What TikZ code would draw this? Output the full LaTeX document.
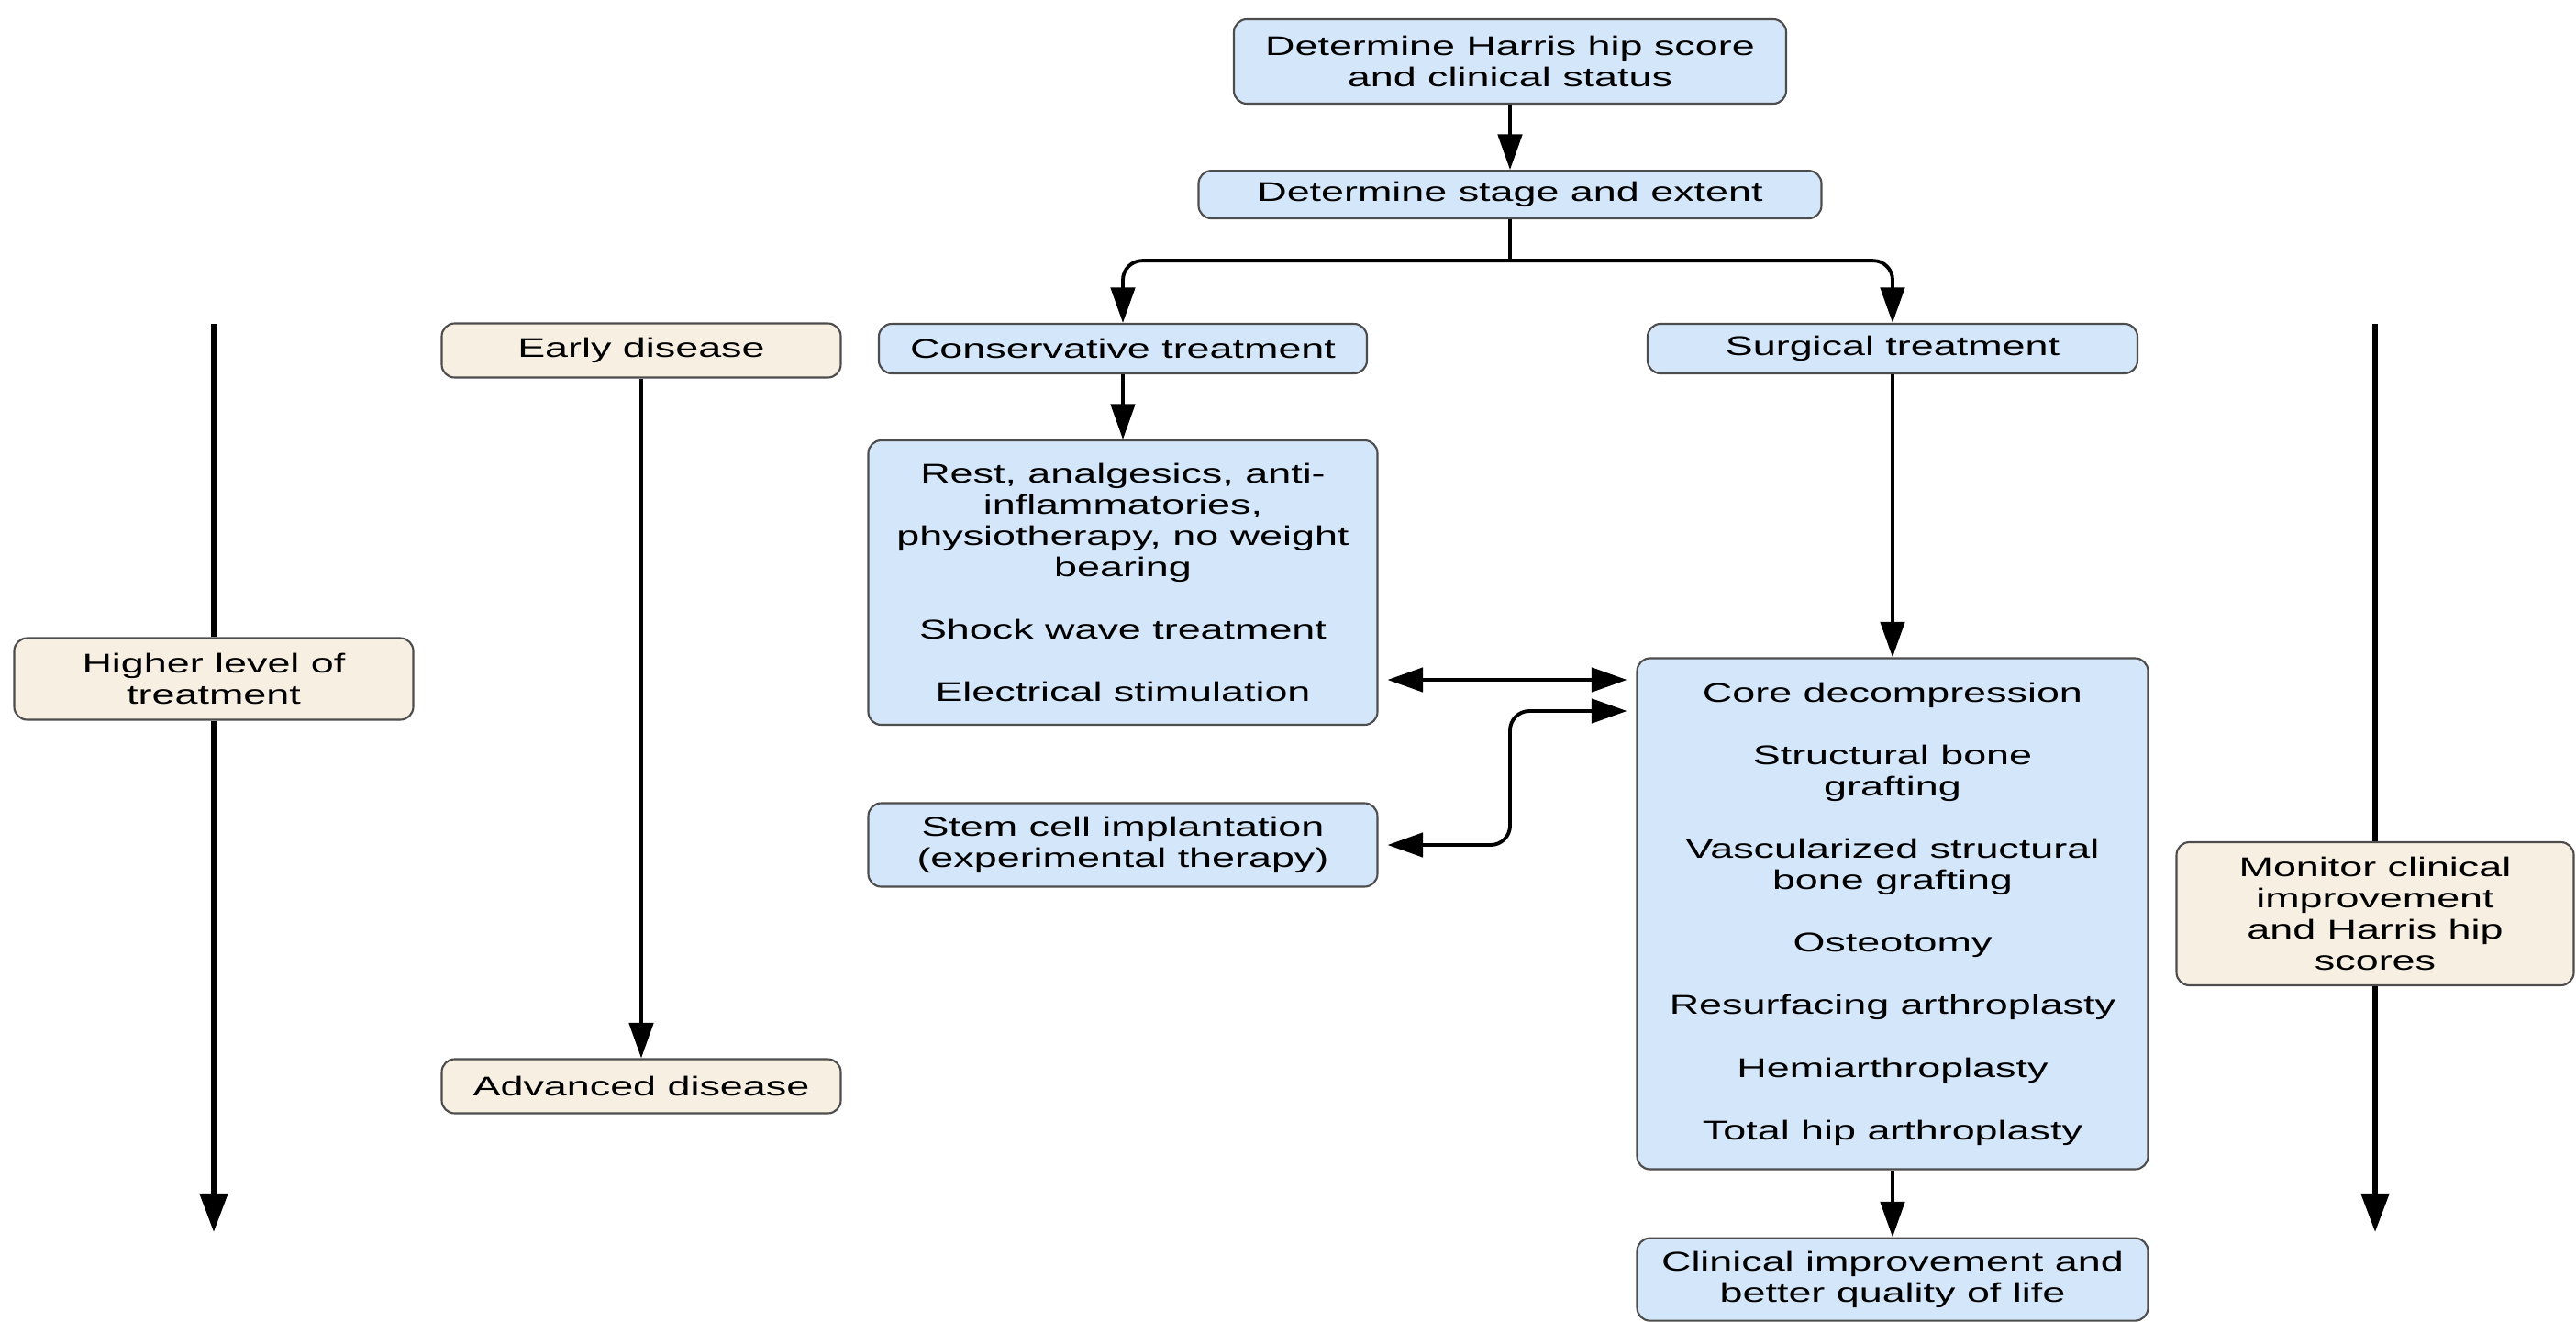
\documentclass[tikz,border=0pt]{standalone}
\usepackage{fontspec}
\setmainfont{Liberation Sans}[FakeStretch=1.52]
\usepackage{tikz}
\usetikzlibrary{arrows.meta, positioning}
\definecolor{stepBlue}{HTML}{D4E6F9}
\definecolor{stageBeige}{HTML}{F7EFE2}
\definecolor{boxEdge}{HTML}{4D4D4D}

\begin{document}
\begin{tikzpicture}[
    every node/.style={font=\fontsize{8.4pt}{9.7pt}\selectfont, align=center},
    flowbox/.style={
        draw=boxEdge, line width=0.6pt, rounded corners=4pt,
        fill=stepBlue, inner sep=2pt
    },
    sidebox/.style={flowbox, fill=stageBeige},
    conn/.style={draw, line width=1.1pt, -{Triangle[length=11pt, width=7.5pt]}},
    both/.style={conn, {Triangle[length=11pt, width=7.5pt]}-{Triangle[length=11pt, width=7.5pt]},
        shorten <=0.1cm, shorten >=0.1cm},
    axis/.style={draw, line width=1.6pt},
]
    \useasboundingbox (0,0) rectangle (28.08,-14.40);

    % main column
    \node[flowbox, minimum width=6.02cm, minimum height=0.92cm] (harris) at (16.46,-0.67)
        {Determine Harris hip score\\and clinical status};
    \node[flowbox, minimum width=6.79cm, minimum height=0.52cm, below=0.71cm of harris] (stage)
        {Determine stage and extent};
    \node[flowbox, minimum width=5.32cm, minimum height=0.54cm] (cons) at (12.24,-3.80)
        {Conservative treatment};
    \node[flowbox, minimum width=5.34cm, minimum height=0.54cm] (surg) at (20.63,-3.80)
        {Surgical treatment};
    \node[flowbox, minimum width=5.55cm, minimum height=3.10cm] (rest) at (12.24,-6.35)
        {Rest, analgesics, anti-\\inflammatories,\\physiotherapy, no weight\\bearing\\[9.7pt]
         Shock wave treatment\\[9.7pt]Electrical stimulation};
    \node[flowbox, minimum width=5.55cm, minimum height=0.91cm] (stem) at (12.24,-9.21)
        {Stem cell implantation\\(experimental therapy)};
    \node[flowbox, minimum width=5.57cm, minimum height=5.57cm] (core) at (20.63,-9.96)
        {Core decompression\\[9.7pt]Structural bone\\grafting\\[9.7pt]
         Vascularized structural\\bone grafting\\[9.7pt]Osteotomy\\[9.7pt]
         Resurfacing arthroplasty\\[9.7pt]Hemiarthroplasty\\[9.7pt]Total hip arthroplasty};
    \node[flowbox, minimum width=5.57cm, minimum height=0.90cm, below=0.73cm of core] (clin)
        {Clinical improvement and\\better quality of life};

    % side scales
    \node[sidebox, minimum width=4.35cm, minimum height=0.59cm] (early) at (6.99,-3.82)
        {Early disease};
    \node[sidebox, minimum width=4.35cm, minimum height=0.59cm] (adv) at (6.99,-11.84)
        {Advanced disease};
    \node[sidebox, minimum width=4.35cm, minimum height=0.89cm] (higher) at (2.33,-7.40)
        {Higher level of\\treatment};
    \node[sidebox, minimum width=4.33cm, minimum height=1.56cm] (monitor) at (25.89,-9.96)
        {Monitor clinical\\improvement\\and Harris hip\\scores};

    \coordinate (ltop) at (2.33,-3.53);
    \coordinate (lbot) at (2.33,-13.43);
    \coordinate (rtop) at (25.89,-3.53);
    \coordinate (rbot) at (25.89,-13.43);
    \coordinate (lvl) at (0,-7.41);
    \coordinate (bend) at (16.46,-7.75);
    \path (stage.south) ++(0,-0.45) coordinate (split);

    % connectors
    \draw[conn] (harris) -- (stage);
    \draw[line width=1.1pt] (stage.south) -- (split);
    \draw[conn, rounded corners=6pt] (split) -| (cons.north);
    \draw[conn, rounded corners=6pt] (split) -| (surg.north);
    \draw[conn] (cons) -- (rest);
    \draw[conn] (surg) -- (core);
    \draw[both] (rest.east |- lvl) -- (core.west |- lvl);
    \draw[both, rounded corners=6pt] (stem.east) -| (bend) -- (core.west |- bend);
    \draw[conn] (core) -- (clin);
    \draw[conn] (early) -- (adv);

    \draw[axis] (ltop) -- (higher.north);
    \draw[axis, -{Triangle[length=12pt, width=8.5pt]}] (higher.south) -- (lbot);
    \draw[axis] (rtop) -- (monitor.north);
    \draw[axis, -{Triangle[length=12pt, width=8.5pt]}] (monitor.south) -- (rbot);
\end{tikzpicture}
\end{document}
